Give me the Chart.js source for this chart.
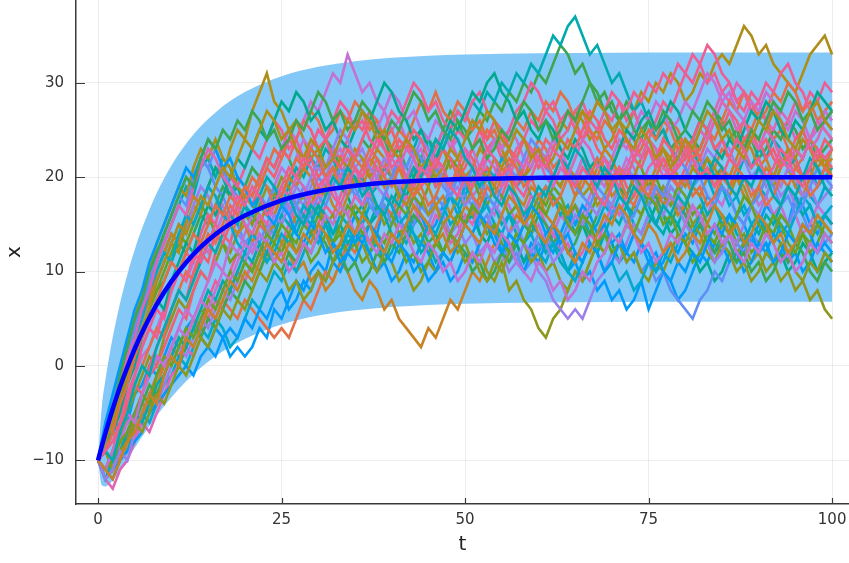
<!DOCTYPE html>
<html>
<head>
<meta charset="utf-8">
<script src="https://cdn.jsdelivr.net/npm/chart.js@4.4.1/dist/chart.umd.min.js"></script>
<style>
  html, body { margin: 0; padding: 0; background: #fff; }
  #wrap { width: 849px; height: 563px; }
</style>
</head>
<body>
<div id="wrap"><canvas id="chart" width="849" height="563"></canvas></div>
<script>
// Banda y media
const bandT    = [0, 0.5, 1, 1.5, 2, 3, 4, 5, 6, 8, 10, 12, 14, 16, 18, 20, 25, 30, 35, 40, 50, 60, 70, 80, 90, 100];
const meanX    = [-10, -8.54, -7.15, -5.82, -4.56, -2.22, -0.11, 1.80, 3.54, 6.52, 8.96, 10.96, 12.60, 13.94, 15.04, 15.94, 17.54, 18.51, 19.09, 19.45, 19.80, 19.93, 19.97, 20, 20, 20];
const bandLow  = [-10, -12.61, -12.77, -12.54, -12.14, -11.08, -9.91, -8.70, -7.50, -5.28, -3.32, -1.62, -0.20, 1.02, 2.02, 2.86, 4.38, 5.33, 5.89, 6.25, 6.60, 6.73, 6.77, 6.8, 6.8, 6.8];
const bandHigh = [-10, -4.47, -1.53, 0.90, 3.02, 6.64, 9.69, 12.30, 14.58, 18.32, 21.24, 23.54, 25.40, 26.86, 28.06, 29.02, 30.70, 31.69, 32.29, 32.65, 33.00, 33.13, 33.17, 33.2, 33.2, 33.2];

const xTicks = [0, 25, 50, 75, 100];
const yTicks = [-10, 0, 10, 20, 30];

const pathColors = ['#009AFA', '#E36F47', '#3EA44E', '#C371D2', '#AC8E18', '#00AAAE', '#ED5E93', '#C68225',
                    '#00A98D', '#8E971D', '#00A9CD', '#9B7FE8', '#618DF6', '#F05F73', '#DD65B6', '#6BA120'];

// Trayectorias, t = 0..100
const path1 = [-10,-9,-7,-6,-6,-3,-2,0,-1,1, 3,2,4,5,3,2,4,3,1,2, 1,2,4,3,6,5,7,9,8,10, 11,10,13,12,14,16,15,13,14,17, 16,18,17,15,16,14,15,17,18,16, 15,17,14,13,15,12,14,13,11,13, 12,14,15,12,10,11,9,10,8,9, 7,8,6,7,9,6,8,10,9,7, 8,10,12,11,13,12,14,16,15,13, 15,17,16,14,15,18,17,15,14,16, 15];
const path2 = [-10,-11,-9,-10,-7,-5,-6,-3,-1,0, 2,1,3,5,4,6,5,7,6,5, 7,6,5,4,3,4,3,5,7,6, 8,10,9,11,13,12,14,13,15,17, 16,18,20,19,21,20,22,21,19,20, 22,21,23,25,24,22,23,21,20,22, 24,23,21,22,20,18,19,21,20,22, 21,23,25,24,22,23,21,24,26,25, 23,24,22,20,21,23,22,24,26,25, 27,26,24,25,23,21,22,24,26,25, 24];
const path3 = [-10,-8,-6,-4,-1,2,4,6,8,9, 11,13,12,14,16,15,17,19,18,20, 19,21,20,22,21,23,22,20,21,23, 22,24,23,21,20,22,24,23,25,24, 22,23,21,20,22,24,23,25,27,26, 24,25,27,26,28,27,29,28,30,29, 31,30,32,34,33,31,32,30,28,29, 27,26,28,27,25,26,24,25,23,24, 22,24,23,25,27,26,24,25,23,24, 22,23,25,24,26,25,23,24,22,23, 24];
const path4 = [-10,-9,-7,-5,-4,-1,1,2,4,6, 8,10,9,11,13,12,14,16,15,17, 19,18,20,22,21,23,25,24,26,28, 27,29,31,30,33,31,29,30,28,27, 25,26,24,22,23,21,22,20,19,21, 20,18,19,17,16,18,17,15,16,14, 15,13,14,16,15,17,16,18,20,19, 21,20,22,21,19,20,18,19,17,18, 16,17,15,16,18,17,19,18,20,19, 17,18,16,17,15,16,14,15,17,16, 15];
const path5 = [-10,-8,-5,-3,0,2,5,7,9,11, 13,12,15,17,16,19,21,20,23,25, 24,27,29,31,28,27,25,26,24,22, 23,21,22,20,19,21,20,22,21,19, 20,18,19,21,20,22,24,23,21,22, 20,21,23,22,24,23,21,22,20,21, 23,22,24,26,25,27,26,24,25,23, 24,26,25,27,29,28,30,29,31,30, 28,29,31,30,32,33,32,34,36,35, 33,34,32,31,30,29,31,33,34,35, 33];
const path6 = [-10,-7,-4,-2,1,4,6,9,11,13, 15,17,19,18,21,22,20,22,21,19, 17,15,17,16,18,17,19,21,20,22, 21,23,22,20,21,19,20,18,19,21, 20,22,21,23,25,24,22,23,25,27, 26,28,27,29,28,30,29,31,30,32, 31,33,35,34,36,37,35,33,34,32, 30,31,29,27,28,26,24,25,23,22, 24,23,21,22,20,21,19,20,22,21, 23,22,24,23,21,22,20,21,19,20, 21];
const path7 = [-10,-12,-11,-9,-7,-8,-5,-3,-4,-1, 1,0,3,5,4,7,9,8,10,12, 11,13,15,14,16,18,17,15,16,14, 15,17,16,18,20,19,21,20,22,21, 23,22,20,21,19,20,22,21,23,25, 24,26,25,23,24,22,21,23,24,26, 25,27,26,24,25,27,28,26,25,27, 26,28,27,29,28,30,29,31,30,32, 31,33,32,30,31,29,30,28,27,29, 28,26,27,25,26,28,27,29,28,26, 27];
const path8 = [-10,-9,-10,-8,-9,-6,-4,-5,-2,0, 1,3,2,4,6,5,7,6,8,10, 9,11,10,12,11,13,12,10,11,9, 10,8,9,11,10,8,7,9,8,6, 7,5,4,3,2,4,3,5,7,6, 8,10,9,11,13,12,14,16,15,17, 16,18,20,19,21,20,22,21,19,20, 18,19,17,18,20,19,21,23,22,24, 23,21,22,20,19,21,20,22,24,23, 21,22,20,19,21,23,22,24,23,21, 22];
const path9 = [-10,-7,-5,-2,1,3,6,8,10,12, 14,13,16,18,17,19,21,20,18,19, 17,16,15,17,19,18,20,19,21,23, 22,20,21,19,18,16,17,15,16,18, 17,19,18,20,22,21,19,20,18,17, 15,16,14,13,15,14,12,13,11,12, 14,13,15,17,16,14,15,13,12,14, 13,11,12,14,13,15,17,16,14,15, 13,12,10,11,9,10,12,11,13,14, 12,13,11,12,10,11,13,12,10,11, 12];
const path10 = [-10,-9,-7,-8,-5,-3,-1,1,0,3, 5,7,6,8,10,9,11,13,12,14, 16,15,17,19,18,20,19,17,18,16, 17,15,16,14,15,17,16,18,17,15, 16,14,15,13,14,12,13,15,14,12, 13,11,12,10,9,11,8,9,7,6, 4,3,5,6,8,10,9,11,13,12, 14,13,15,17,16,18,17,19,18,16, 17,15,16,14,13,15,14,12,13,11, 12,10,11,9,10,8,9,7,8,6, 5];
const path11 = [-10,-11,-12,-10,-9,-7,-5,-6,-4,-2, -1,1,0,2,4,3,5,4,2,3, 5,7,6,8,10,9,11,10,12,14, 13,15,14,16,15,13,14,12,13,11, 12,14,13,15,17,16,18,17,15,16, 18,20,19,21,20,22,21,19,20,18, 17,19,18,16,17,15,16,14,15,17, 16,18,17,15,14,16,15,17,19,18, 20,19,21,20,18,19,17,18,16,17, 19,18,20,22,21,19,20,18,17,19, 18];
const path12 = [-10,-8,-5,-3,0,2,5,7,9,11, 13,15,14,17,19,18,16,17,15,14, 13,12,14,13,15,17,16,18,17,19, 21,20,22,24,23,21,22,20,19,18, 20,19,17,18,16,15,17,16,14,15, 13,14,12,13,11,12,10,11,13,12, 10,9,7,6,5,6,5,7,9,10, 12,11,13,15,14,16,15,17,19,18, 20,22,21,23,22,24,23,21,22,20, 21,19,20,18,19,17,18,20,19,21, 20];
const path13 = [-10,-7,-4,-1,2,4,7,9,12,14, 16,18,20,19,22,21,19,18,16,15, 13,14,13,15,14,16,18,17,19,18, 20,19,21,20,18,19,17,18,16,17, 15,16,14,15,17,16,18,17,19,20, 18,17,15,16,14,13,11,12,10,11, 13,12,14,13,15,14,16,15,13,14, 12,13,11,12,10,11,9,10,8,7, 6,5,7,8,10,9,11,13,12,14, 13,15,14,16,15,17,16,14,15,13, 14];
const path14 = [-10,-11,-9,-7,-8,-5,-3,-1,0,2, 4,6,5,8,10,9,12,14,13,16, 18,17,19,21,20,22,24,23,21,22, 20,21,23,22,24,26,25,27,26,24, 25,23,24,22,20,21,19,20,22,21, 23,22,20,21,19,18,20,19,21,23, 22,24,23,25,27,26,24,25,23,22, 20,21,19,18,20,19,17,18,20,19, 21,23,22,24,26,25,27,26,24,25, 23,24,22,21,23,22,20,21,23,22, 21];
const path15 = [-10,-12,-13,-11,-10,-8,-6,-7,-5,-3, -1,0,2,1,3,5,7,6,8,10, 9,11,13,12,14,13,15,17,16,18, 17,19,21,20,22,21,19,18,20,19, 17,16,18,17,15,14,16,15,13,14, 16,15,17,19,18,20,19,17,16,18, 17,15,14,12,13,11,12,14,13,15, 17,16,18,20,19,21,22,20,21,23, 22,24,26,25,27,29,28,30,29,27, 28,26,25,27,26,24,25,23,24,26, 25];
const path16 = [-10,-8,-6,-3,-1,1,3,6,8,10, 12,14,13,15,17,16,14,13,11,12, 11,10,12,11,13,12,14,13,15,14, 16,15,13,14,12,13,11,12,14,13, 15,17,16,18,17,19,21,20,22,21, 19,20,18,17,19,18,16,17,15,16, 18,17,19,18,16,17,15,16,18,17, 19,21,20,22,21,19,20,18,17,19, 18,16,17,15,14,16,15,13,14,12, 13,15,14,16,15,13,14,12,13,15, 14];
const path17 = [-10,-12,-11,-10,-9,-8,-7,-5,-4,-3, -2,-1,0,-1,1,2,1,3,4,3, 5,4,6,5,7,8,6,7,9,8, 10,9,11,10,12,11,13,12,10,11, 9,10,12,11,13,12,10,11,9,10, 12,11,13,15,14,12,13,11,10,12, 11,13,12,14,16,15,17,16,14,15, 13,14,12,11,13,12,10,11,13,12, 14,13,15,14,12,13,11,12,10,11, 13,12,14,13,11,12,10,11,13,12, 11];
const path18 = [-10,-8,-6,-7,-4,-2,0,2,4,3, 6,8,10,9,12,14,13,15,17,16, 18,20,19,21,23,22,24,26,25,27, 26,24,25,27,26,28,27,25,26,24, 23,25,24,26,28,27,29,27,26,28, 27,25,26,24,25,23,24,26,25,27, 26,28,27,29,28,26,27,25,24,26, 25,23,24,22,23,25,24,26,25,23, 24,22,23,25,24,26,28,27,29,28, 26,27,29,28,30,29,27,28,26,27, 28];
const path19 = [-10,-11,-9,-7,-8,-6,-4,-2,-3,-1, 1,0,2,4,3,5,4,6,8,7, 9,8,10,12,11,10,12,11,13,12, 14,13,11,12,10,11,9,10,12,11, 13,12,14,16,15,13,14,12,11,13, 12,10,11,9,10,12,11,13,15,14, 16,15,13,14,12,13,15,14,16,18, 17,19,18,20,19,17,18,16,15,17, 16,14,15,13,12,14,13,11,12,10, 11,9,10,12,11,13,12,10,9,11, 10];
const path20 = [-10,-9,-11,-8,-6,-5,-3,-1,1,0, 2,4,6,5,7,9,11,10,13,12, 14,16,18,17,19,21,20,22,24,23, 25,24,22,23,21,22,24,26,25,27, 29,28,26,27,25,24,26,25,23,24, 22,23,21,22,24,23,25,24,22,21, 23,22,24,23,21,20,22,21,19,20, 22,24,23,25,27,26,28,27,25,26, 28,27,29,31,30,28,29,27,26,28, 27,29,28,26,25,27,26,24,25,27, 26];
const path21 = [-10,-7,-4,-1,2,5,8,10,13,15, 17,19,18,21,23,22,24,22,21,19, 18,17,16,14,15,13,14,16,15,17, 19,18,20,22,21,23,22,20,21,19, 20,18,17,19,18,16,17,15,16,18, 17,19,21,20,22,21,23,22,24,23, 21,22,20,19,21,20,18,19,17,18, 20,19,21,20,22,24,23,21,22,20, 19,21,20,22,21,19,18,20,19,17, 18,20,19,21,23,22,24,23,21,22, 20];
const path22 = [-10,-12,-10,-9,-7,-5,-6,-4,-2,-1, 1,3,2,4,6,8,7,9,8,10, 12,11,13,12,14,16,15,14,16,15, 17,16,14,15,13,14,16,15,17,16, 14,13,15,14,12,13,11,12,14,13, 15,17,16,18,17,15,16,14,13,15, 14,12,13,11,10,12,11,13,12,14, 16,15,17,16,18,17,15,14,16,15, 17,19,18,16,17,15,16,14,13,15, 14,16,15,17,19,18,16,17,15,16, 15];
const path23 = [-10,-9,-7,-5,-3,-1,2,4,3,6, 8,10,12,11,14,16,15,18,20,19, 21,23,22,24,26,25,23,24,22,23, 25,24,26,28,27,25,26,24,23,25, 27,26,28,30,29,27,28,26,25,27, 26,28,29,27,26,24,25,27,28,30, 29,27,28,26,27,25,24,26,28,27, 29,28,26,27,25,24,26,28,27,29, 31,30,32,34,33,31,30,28,29,27, 28,30,29,31,32,30,29,27,28,30, 29];
const path24 = [-10,-8,-5,-3,0,3,5,7,10,12, 14,13,16,18,17,19,18,16,15,14, 15,13,15,17,16,18,20,19,21,20, 18,19,17,16,18,20,19,21,23,22, 20,21,19,18,20,19,17,18,16,15, 17,16,18,20,19,21,20,18,17,19, 18,16,15,17,16,18,20,19,21,23, 22,20,21,19,18,20,19,17,18,16, 17,19,18,20,22,21,19,20,18,17, 19,21,20,22,21,19,18,20,22,21, 23];
const path25 = [-10,-8,-7,-5,-2,0,3,5,7,6, 9,11,13,12,15,17,16,18,20,22, 21,23,25,24,26,28,27,29,28,26, 27,25,26,24,23,25,27,26,28,30, 29,27,26,24,25,23,22,24,26,25, 27,29,28,30,31,29,28,26,27,25, 24,26,25,23,22,24,23,21,22,20, 21,23,25,24,26,27,25,26,28,27, 25,24,26,25,23,22,24,23,25,27, 26,28,27,25,24,26,25,27,29,28, 27];
const path26 = [-10,-9,-11,-9,-8,-6,-7,-5,-3,-4, -2,0,-1,1,3,2,4,6,5,7, 6,8,10,9,11,10,8,9,7,8, 10,9,11,13,12,14,13,11,10,12, 11,9,10,8,9,11,10,12,14,13, 11,12,10,9,11,10,12,14,13,11, 12,10,11,9,8,10,9,11,13,12, 14,13,11,12,10,9,11,10,12,14, 13,15,14,12,11,13,12,10,11,9, 10,12,11,13,12,10,9,11,10,12, 11];
const path27 = [-10,-7,-5,-2,0,3,5,8,10,12, 11,14,16,15,17,19,18,16,15,13, 12,14,13,11,12,14,13,15,17,16, 14,15,13,12,14,13,15,17,16,18, 17,15,16,14,13,15,14,16,18,17, 19,18,16,17,15,14,16,15,13,14, 12,11,13,12,10,9,11,13,12,10, 11,9,10,8,9,11,10,12,11,13, 15,14,16,18,17,19,18,16,17,15, 16,14,13,15,14,16,18,17,15,16, 17];
const path28 = [-10,-12,-11,-9,-10,-7,-5,-3,-4,-2, 0,2,1,3,5,4,6,8,7,9, 11,13,12,14,16,15,17,19,18,20, 22,21,23,25,24,22,23,21,20,22, 21,19,20,22,24,23,21,20,18,19, 17,18,16,15,17,16,14,15,13,12, 14,13,11,12,14,16,15,17,16,18, 17,19,21,20,18,19,17,16,18,17, 15,14,12,13,11,12,14,13,15,17, 16,18,20,19,21,20,18,19,17,18, 19];
const path29 = [-10,-7,-4,-1,1,4,6,9,11,14, 16,18,17,20,22,21,23,21,19,18, 17,16,18,17,19,18,16,17,15,16, 18,17,19,21,20,18,19,17,16,18, 20,22,21,23,22,20,21,19,18,20, 19,21,20,18,17,19,21,20,22,24, 23,21,20,22,21,19,18,17,19,18, 16,17,15,16,18,17,19,18,20,22, 21,19,20,18,17,19,18,16,15,17, 18,20,19,17,18,16,17,19,21,20, 19];
const path30 = [-10,-11,-9,-6,-4,-2,-3,0,2,4, 6,8,7,10,12,11,14,13,15,17, 19,18,20,22,21,23,22,24,26,25, 23,24,22,21,23,22,24,26,25,23, 22,24,23,25,24,22,21,23,22,20, 21,23,25,24,26,25,23,22,24,23, 21,22,20,22,24,23,25,27,26,24, 23,25,24,22,21,23,22,24,23,21, 22,24,26,25,23,24,22,21,23,25, 24,22,23,21,22,24,25,23,22,24, 23];
const path31 = [-10,-8,-5,-2,1,3,6,8,11,13, 15,17,16,19,21,23,22,20,19,17, 15,14,16,15,17,19,18,20,19,17, 18,20,19,17,16,18,17,19,21,20, 22,21,23,22,20,21,23,25,24,22, 23,21,20,22,21,19,20,22,21,23, 22,20,19,21,20,22,24,23,21,22, 20,19,21,23,22,24,23,21,20,22, 24,23,25,24,26,28,27,25,26,24, 23,25,24,22,21,23,22,24,26,25, 24];
const path32 = [-10,-11,-10,-8,-7,-5,-3,-4,-1,1, 0,2,4,3,5,7,6,8,10,9, 11,10,12,14,13,15,14,12,13,11, 12,14,13,15,17,16,14,15,13,12, 14,13,11,12,10,11,13,12,14,16, 15,17,16,14,15,13,12,14,13,15, 17,16,18,17,15,14,16,15,13,14, 12,13,15,14,16,18,17,15,16,14, 13,11,12,14,13,15,14,16,18,17, 15,14,16,15,13,12,14,13,15,14, 13];
const path33 = [-10,-6,-3,0,3,6,8,11,13,15, 17,19,21,20,22,24,23,21,22,20, 19,17,18,16,15,17,16,14,13,15, 14,12,13,11,12,14,13,15,14,12, 11,13,12,10,11,9,10,12,11,13, 15,14,16,15,13,12,14,13,15,17, 16,14,15,13,14,12,11,13,12,10, 11,13,12,14,13,11,12,10,9,11, 10,12,11,13,15,14,16,15,13,14, 12,13,11,12,14,13,15,14,12,13, 12];
const path34 = [-10,-9,-7,-4,-2,1,3,5,7,9, 11,10,12,14,13,15,17,16,18,17, 19,18,20,19,17,18,20,22,21,23, 22,20,21,19,20,22,21,23,22,20, 19,21,20,18,19,17,18,20,19,21, 20,18,17,19,18,20,22,21,19,20, 18,19,17,18,20,19,21,20,22,21, 19,20,18,17,19,18,20,22,21,19, 20,18,19,17,18,20,19,21,20,18, 19,17,18,20,19,21,20,18,19,21, 20];
const path35 = [-10,-7,-5,-1,2,5,7,10,12,14, 16,18,20,19,22,24,23,25,24,26, 25,27,26,24,25,23,24,26,25,27, 29,28,26,27,25,26,28,27,25,24, 26,25,27,29,28,26,27,25,24,26, 25,23,24,22,23,25,24,26,28,27, 25,26,24,25,27,26,28,30,29,27, 28,26,27,25,24,26,25,27,26,24, 25,27,26,28,27,25,26,24,23,25, 24,26,28,27,29,28,26,27,25,26, 27];
const path36 = [-10,-11,-9,-7,-5,-6,-3,-1,1,0, 2,4,3,5,7,6,8,10,9,11, 13,12,14,13,11,12,10,11,13,12, 14,16,15,17,16,14,15,13,12,14, 13,15,14,12,11,13,12,10,11,9, 10,12,11,13,12,14,13,11,10,9, 11,10,8,9,7,8,10,9,11,12, 14,13,15,14,12,13,11,12,14,13, 15,17,16,14,15,13,14,12,11,13, 12,14,13,11,12,10,11,13,12,14, 13];
const path37 = [-10,-8,-6,-3,-1,2,4,6,9,11, 13,15,14,16,18,17,19,21,20,22, 24,23,25,27,26,24,25,23,22,24, 23,21,22,24,26,25,27,26,24,25, 23,22,24,23,21,22,20,21,23,22, 24,26,25,27,26,24,23,25,24,22, 23,21,22,24,23,25,27,26,28,27, 25,26,24,23,25,24,22,23,21,22, 24,23,25,27,26,24,25,23,22,24, 26,25,27,26,24,23,25,27,28,26, 25];
const path38 = [-10,-9,-10,-7,-5,-2,0,-1,2,4, 6,8,7,9,11,13,12,14,16,15, 17,16,18,20,19,17,18,16,15,17, 16,18,20,19,21,20,18,19,17,16, 18,17,19,21,20,22,24,23,25,24, 22,21,19,20,18,17,19,18,16,17, 19,18,20,22,21,23,22,20,19,21, 20,18,17,19,18,16,15,17,16,18, 17,19,21,20,22,21,19,18,20,19, 21,20,18,17,19,18,20,22,21,19, 18];
const path39 = [-10,-9,-8,-6,-3,-1,2,4,6,5, 8,10,9,12,11,13,15,14,16,18, 17,19,18,16,17,19,21,20,22,21, 19,20,18,17,19,21,20,22,24,23, 21,22,20,19,21,20,22,21,19,18, 20,19,21,23,22,20,21,19,18,20, 22,21,23,22,20,19,21,20,18,17, 19,21,20,22,24,23,21,22,20,21, 23,22,20,21,19,20,22,24,23,21, 22,20,21,23,22,20,19,21,23,22, 23];
const path40 = [-10,-11,-12,-10,-8,-7,-5,-3,-4,-1, 1,0,3,2,4,6,5,7,9,8, 10,9,11,13,12,11,13,12,14,13, 15,14,12,13,15,14,16,15,13,12, 14,13,15,17,16,15,13,14,12,13, 15,14,13,15,14,16,18,17,15,16, 14,13,15,14,12,11,13,12,14,16, 15,17,16,14,13,15,14,12,13,11, 12,14,13,15,17,16,14,15,13,14, 16,15,13,14,12,13,15,14,16,15, 14];

const paths = [path1, path2, path3, path4, path5, path6, path7, path8,
               path9, path10, path11, path12, path13, path14, path15, path16,
               path17, path18, path19, path20, path21, path22, path23, path24,
               path25, path26, path27, path28, path29, path30, path31, path32,
               path33, path34, path35, path36, path37, path38, path39, path40];
const tSteps = Array.from({ length: 101 }, (_, i) => i);

function toPoints(ts, vals) {
    return vals.map((v, k) => ({ x: ts[k], y: v }));
}

const pathSets = paths.map((vals, i) => ({
    data: toPoints(tSteps, vals),
    borderColor: pathColors[i % pathColors.length],
    borderWidth: 2.6,
    pointRadius: 0,
    tension: 0,
    fill: false,
    order: 1 + (paths.length - i)
}));

// Marcas de tick hacia dentro, como en el original
const innerTicks = {
    id: 'innerTicks',
    afterDraw(chart) {
        const { ctx, chartArea, scales } = chart;
        ctx.save();
        ctx.strokeStyle = '#3a3a3a';
        ctx.lineWidth = 1.2;
        ctx.beginPath();
        xTicks.forEach(v => {
            const px = Math.round(scales.x.getPixelForValue(v)) + 0.5;
            ctx.moveTo(px, chartArea.bottom);
            ctx.lineTo(px, chartArea.bottom - 6);
        });
        yTicks.forEach(v => {
            const py = Math.round(scales.y.getPixelForValue(v)) + 0.5;
            ctx.moveTo(chartArea.left, py);
            ctx.lineTo(chartArea.left + 9, py);
        });
        ctx.stroke();
        ctx.restore();
    }
};

const tickFont = { family: 'DejaVu Sans', size: 15 };
const titleFont = { family: 'DejaVu Sans', size: 20 };

new Chart(document.getElementById('chart'), {
    type: 'line',
    data: {
        datasets: [
            {
                data: toPoints(bandT, meanX),
                borderColor: '#0000FF',
                borderWidth: 4.5,
                pointRadius: 0,
                cubicInterpolationMode: 'monotone',
                fill: false,
                order: 0
            },
            ...pathSets,
            {
                data: toPoints(bandT, bandLow),
                borderWidth: 0,
                borderColor: 'rgba(0,0,0,0)',
                pointRadius: 0,
                cubicInterpolationMode: 'monotone',
                fill: false,
                order: 100
            },
            {
                data: toPoints(bandT, bandHigh),
                borderWidth: 0,
                borderColor: 'rgba(0,0,0,0)',
                backgroundColor: '#84C8F8',
                pointRadius: 0,
                cubicInterpolationMode: 'monotone',
                fill: '-1',
                order: 100
            }
        ]
    },
    options: {
        responsive: false,
        animation: false,
        devicePixelRatio: 1,
        layout: { padding: 0 },
        plugins: {
            legend: { display: false },
            tooltip: { enabled: false }
        },
        scales: {
            x: {
                type: 'linear',
                min: -3,
                max: 102.3,
                afterBuildTicks: s => { s.ticks = xTicks.map(v => ({ value: v })); },
                afterFit: s => { s.height = 59; s.paddingLeft = 0; s.paddingRight = 0; },
                grid: { color: 'rgba(0,0,0,0.07)', drawTicks: false },
                border: { display: true, color: '#3a3a3a', width: 1.5 },
                ticks: { font: tickFont, color: '#333', padding: 7, maxRotation: 0 },
                title: { display: true, text: 't', font: titleFont, color: '#222', padding: { top: 0, bottom: 6 } }
            },
            y: {
                type: 'linear',
                min: -14.63,
                max: 38.77,
                afterBuildTicks: s => { s.ticks = yTicks.map(v => ({ value: v })); },
                afterFit: s => { s.width = 76; s.paddingTop = 0; s.paddingBottom = 0; },
                grid: { color: 'rgba(0,0,0,0.07)', drawTicks: false },
                border: { display: true, color: '#3a3a3a', width: 1.5 },
                ticks: {
                    font: tickFont,
                    color: '#333',
                    padding: 12,
                    callback: v => (v < 0 ? '\u2212' + Math.abs(v) : String(v))
                },
                title: { display: true, text: 'x', font: titleFont, color: '#222', padding: { top: 3, bottom: 0 } }
            }
        }
    },
    plugins: [innerTicks]
});
</script>
</body>
</html>
